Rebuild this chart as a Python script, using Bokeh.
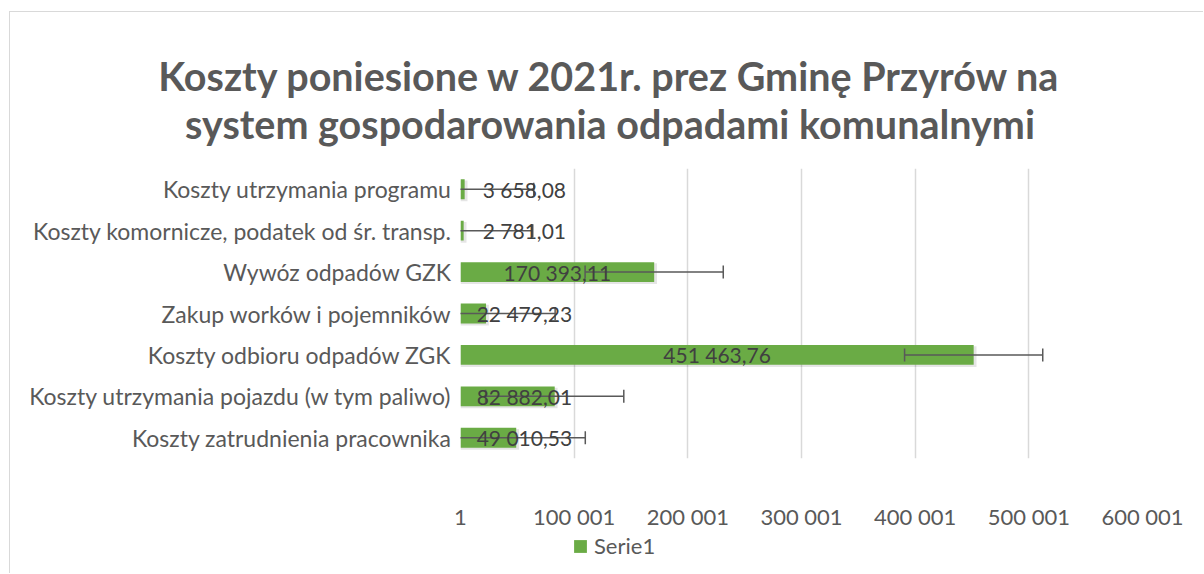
from bokeh.plotting import figure
from bokeh.models import (Range1d, FactorRange, FixedTicker, Legend, LegendItem,
                          ColumnDataSource, Label)
from bokeh.transform import dodge
from bokeh.core.properties import value
from bokeh.embed import file_html
from bokeh.resources import INLINE

# ---------------- data ----------------
title_lines = ["Koszty poniesione w 2021r. prez Gminę Przyrów na",
               "system gospodarowania odpadami komunalnymi"]
categories = [
    "Koszty utrzymania programu",
    "Koszty komornicze, podatek od śr. transp.",
    "Wywóz odpadów GZK",
    "Zakup worków i pojemników",
    "Koszty odbioru odpadów ZGK",
    "Koszty utrzymania pojazdu (w tym paliwo)",
    "Koszty zatrudnienia pracownika",
]
values = [3658.08, 2781.01, 170393.11, 22479.23, 451463.76, 82882.01, 49010.53]
error_amount = 60776  # symmetric error bar
tick_values = [1, 100001, 200001, 300001, 400001, 500001, 600001]
tick_labels = ["1", "100 001", "200 001", "300 001", "400 001", "500 001", "600 001"]
series_name = "Serie1"

# ---------------- styling ----------------
FONT = "Lato"
GRAY = "#595959"
BAR = "#6aab45"
LABEL_MIN_X = 56200
W = 1194
H_TITLE, H_MAIN, H_LEG = 140, 381, 41
EDGE = "1px solid #d9d9d9"

def fmt(v):
    return f"{v:,.2f}".replace(",", " ").replace(".", ",")

def blank(height):
    f = figure(width=W, height=height, x_range=Range1d(0, 1), y_range=Range1d(0, 1),
               x_axis_type=None, y_axis_type=None, output_backend="svg",
               toolbar_location=None, min_border=0)
    f.outline_line_color = None
    f.background_fill_color = "white"
    f.border_fill_color = "white"
    f.xgrid.visible = False
    f.ygrid.visible = False
    return f

# ---------------- title ----------------
pt = blank(H_TITLE)
pt.styles = {"margin-left": "9px", "margin-top": "11px",
             "border-left": EDGE, "border-top": EDGE}
for i, line in enumerate(title_lines):
    pt.add_layout(Label(x=599.5, y=77 - 48 * i, x_units="screen", y_units="screen",
                        text=line, text_align="center", text_baseline="alphabetic",
                        text_font=FONT, text_font_style="bold",
                        text_font_size="39.5px", text_color=GRAY))

# ---------------- main chart ----------------
src = ColumnDataSource(dict(
    cat=categories,
    val=values,
    shadow=[v + 2500 for v in values],
    lo=[v - error_amount for v in values],
    hi=[v + error_amount for v in values],
    label=[fmt(v) for v in values],
    label_x=[max(v / 2, LABEL_MIN_X) for v in values],
))

p = figure(width=W, height=H_MAIN,
           x_range=Range1d(tick_values[0], tick_values[-1]),
           y_range=FactorRange(factors=list(reversed(categories))),
           output_backend="svg", toolbar_location=None,
           min_border_left=450, min_border_right=62,
           min_border_top=17, min_border_bottom=74)
p.styles = {"margin-left": "9px", "border-left": EDGE}
p.outline_line_color = None
p.background_fill_color = "white"
p.border_fill_color = "white"
p.y_range.range_padding = 0

p.xgrid.ticker = FixedTicker(ticks=tick_values)
p.xgrid.grid_line_color = "#d9d9d9"
p.xgrid.grid_line_width = 1.5
p.ygrid.grid_line_color = None

p.xaxis.ticker = FixedTicker(ticks=tick_values)
p.xaxis.major_label_overrides = {t: l for t, l in zip(tick_values, tick_labels)}
p.xaxis.axis_line_color = None
p.xaxis.major_tick_line_color = None
p.xaxis.minor_tick_line_color = None
p.xaxis.major_label_standoff = 38
p.xaxis.major_label_text_font = FONT
p.xaxis.major_label_text_font_size = "22px"
p.xaxis.major_label_text_color = GRAY

p.yaxis.axis_line_color = None
p.yaxis.major_tick_line_color = None
p.yaxis.minor_tick_line_color = None
p.yaxis.major_label_standoff = 3
p.yaxis.major_label_text_font = FONT
p.yaxis.major_label_text_font_size = "23px"
p.yaxis.major_label_text_color = GRAY

# soft shadow under the bars
p.hbar(y=dodge("cat", -0.04, range=p.y_range), left=0, right="shadow", height=0.5,
       source=src, fill_color="black", fill_alpha=0.10, line_color=None)
p.hbar(y="cat", left=0, right="val", height=0.48, source=src,
       fill_color=BAR, line_color=None)

# error bars
p.segment(x0="lo", y0="cat", x1="hi", y1="cat", source=src,
          line_color=GRAY, line_width=1.5)
for col in ("lo", "hi"):
    p.scatter(x=col, y="cat", source=src, marker="dash", angle=1.5708, size=13,
              line_color=GRAY, line_width=1.5)

# data labels
p.text(x="label_x", y="cat", text="label", source=src,
       text_align="center", text_baseline="middle",
       text_font=value(FONT), text_font_size="21px", text_color="#404040")

# ---------------- legend ----------------
pl = blank(H_LEG)
pl.styles = {"margin-left": "9px", "border-left": EDGE}
leg_src = ColumnDataSource(dict(y=[0.5], right=[0.0]))
leg_r = pl.hbar(y="y", left=0, right="right", height=0.5, source=leg_src,
                fill_color=BAR, line_color=None)
legend = Legend(items=[LegendItem(label=series_name, renderers=[leg_r])],
                location=(562, 14), orientation="horizontal",
                glyph_width=16, glyph_height=16, label_standoff=6,
                label_text_font=FONT, label_text_font_size="22px",
                label_text_color=GRAY, border_line_color=None,
                background_fill_alpha=0, padding=0, margin=0, spacing=0)
pl.add_layout(legend)

open("out.html", "w").write(file_html([pt, p, pl], INLINE))
